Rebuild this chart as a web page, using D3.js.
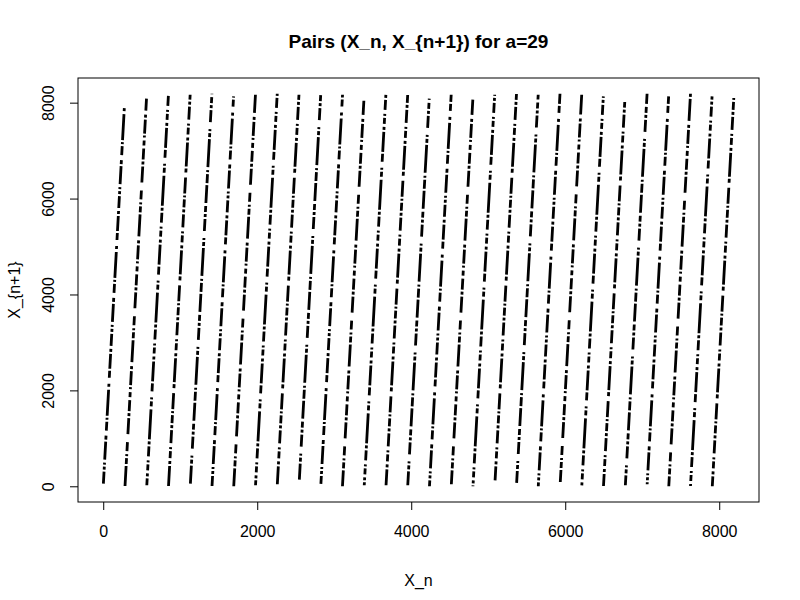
<!DOCTYPE html>
<html>
<head>
<meta charset="utf-8">
<script src="https://cdn.jsdelivr.net/npm/d3@7"></script>
<style>
  body { margin: 0; background: #fff; }
  text { font-family: "Liberation Sans", Arial, sans-serif; fill: #000; }
</style>
</head>
<body>
<div id="plot"></div>
<script>
// one stripe per run of the generator: (x, y) at its low end and at its high end
var stripeX0 = [2, 283, 566, 848, 1132, 1413, 1695, 1978, 2261, 2547, 2827, 3107, 3390, 3673, 3955,
  4237, 4521, 4802, 5089, 5369, 5650, 5936, 6215, 6497, 6781, 7064, 7345, 7627, 7910];
var stripeY0 = [56, 6, 21, 6, 56, 6, 0, 21, 42, 140, 49, 0, 21, 21, 21,
  0, 42, 0, 125, 70, 0, 90, 0, 6, 21, 42, 0, 6, 0];
var stripeX1 = [278, 562, 847, 1129, 1412, 1693, 1977, 2260, 2542, 2825, 3108, 3385, 3671, 3954, 4234,
  4519, 4800, 5084, 5367, 5649, 5932, 6214, 6495, 6773, 7063, 7343, 7627, 7907, 8189];
var stripeY1 = [8000, 8083, 8166, 8166, 8187, 8131, 8166, 8187, 8166, 8180, 8166, 8040, 8173, 8160, 8083,
  8166, 8062, 8166, 8180, 8166, 8187, 8166, 8131, 8013, 8187, 8131, 8187, 8131, 8097];

var xTicks = [0, 2000, 4000, 6000, 8000];
var yTicks = [0, 2000, 4000, 6000, 8000];

var svgWidth = 800;
var svgHeight = 600;

// plot box as R draws it
var box = { left: 78, right: 759, top: 78, bottom: 502 };

var svg = d3.select("#plot")
  .append("svg")
  .attr("width", svgWidth)
  .attr("height", svgHeight);

svg.append("rect")
  .attr("width", svgWidth)
  .attr("height", svgHeight)
  .attr("fill", "#fff");

// R pads the data range by 4% on each side
function padded(lo, hi) {
  var d = (hi - lo) * 0.04;
  return [lo - d, hi + d];
}

var xMax = d3.max(stripeX1);
var yMin = d3.min(stripeY0), yMax = d3.max(stripeY1);

var xScale = d3.scaleLinear()
  .domain(padded(0, xMax))
  .range([box.left, box.right]);

var yScale = d3.scaleLinear()
  .domain(padded(yMin, yMax))
  .range([box.bottom, box.top]);

var stripes = stripeX0.map((x, i) => ({
  x0: x, y0: stripeY0[i], x1: stripeX1[i], y1: stripeY1[i]
}));

// broken patterns so the stripes read as runs of dots with holes
var dashes = [
  "12 2 3 2 2 3 18 2 4 5 9 2 2 2 26 3 3 6 7 2 15 2 3 3",
  "5 3 2 2 14 2 3 4 22 2 6 2 2 3 9 8 16 2 3 2 11 3",
  "20 2 3 3 6 2 2 4 10 2 3 2 30 3 5 2 2 6 8 2",
  "3 2 8 2 2 2 16 5 4 2 24 2 3 3 7 2 2 4 13 2",
  "9 2 2 3 28 2 4 2 2 7 12 2 3 2 6 3 18 2"
];

svg.append("g")
  .selectAll("line")
  .data(stripes)
  .enter()
  .append("line")
  .attr("x1", d => xScale(d.x0))
  .attr("y1", d => yScale(d.y0))
  .attr("x2", d => xScale(d.x1))
  .attr("y2", d => yScale(d.y1))
  .attr("stroke", "#000")
  .attr("stroke-width", 2.8)
  .attr("stroke-dasharray", (d, i) => dashes[i % dashes.length])
  .attr("stroke-dashoffset", (d, i) => (i * 37) % 61);

// axes
var xAxis = svg.append("g")
  .attr("transform", `translate(0, ${box.bottom})`)
  .call(d3.axisBottom(xScale).tickValues(xTicks).tickSize(8).tickPadding(15.6).tickFormat(d3.format("d")));

xAxis.select(".domain").remove();
xAxis.selectAll("text").attr("font-size", "16px").attr("font-family", null);

var yAxis = svg.append("g")
  .attr("transform", `translate(${box.left}, 0)`)
  .call(d3.axisLeft(yScale).tickValues(yTicks).tickSize(8).tickFormat(d3.format("d")));

yAxis.select(".domain").remove();
yAxis.selectAll("text")
  .attr("font-size", "16px")
  .attr("font-family", null)
  .attr("x", 0)
  .attr("dy", 0)
  .attr("text-anchor", "middle")
  .attr("transform", "translate(-24.5, 0) rotate(-90)");

svg.selectAll(".tick line").attr("stroke", "#000");

svg.append("rect")
  .attr("x", box.left)
  .attr("y", box.top)
  .attr("width", box.right - box.left)
  .attr("height", box.bottom - box.top)
  .attr("fill", "none")
  .attr("stroke", "#000")
  .attr("stroke-width", 1);

// titles
svg.append("text")
  .attr("x", (box.left + box.right) / 2)
  .attr("y", 48)
  .attr("text-anchor", "middle")
  .attr("font-size", "19px")
  .attr("font-weight", "bold")
  .text("Pairs (X_n, X_{n+1}) for a=29");

svg.append("text")
  .attr("x", (box.left + box.right) / 2)
  .attr("y", 586)
  .attr("text-anchor", "middle")
  .attr("font-size", "16px")
  .text("X_n");

svg.append("text")
  .attr("transform", `translate(19.5, ${(box.top + box.bottom) / 2}) rotate(-90)`)
  .attr("text-anchor", "middle")
  .attr("font-size", "16px")
  .text("X_{n+1}");
</script>
</body>
</html>
